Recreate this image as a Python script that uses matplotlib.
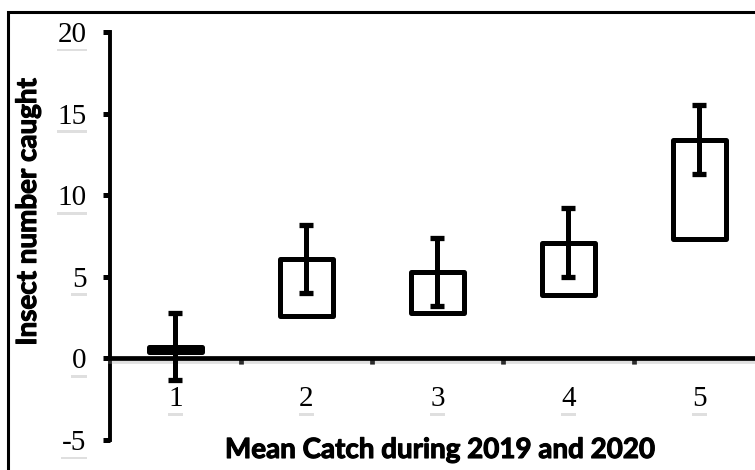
import matplotlib.pyplot as plt
import matplotlib.patheffects as pe
from matplotlib.patches import Rectangle

# Mean catch per trap treatment (box = range, whisker = error)
groups = [1, 2, 3, 4, 5]
box_low = [0.4, 2.6, 2.8, 3.9, 7.3]
box_high = [0.7, 6.1, 5.3, 7.1, 13.4]
err_low = [-1.3, 4.0, 3.2, 5.0, 11.3]
err_high = [2.8, 8.2, 7.4, 9.2, 15.5]
y_ticks = [-5, 0, 5, 10, 15, 20]

lshadow = [pe.SimpleLineShadow(offset=(0, -2), shadow_color='0.6', alpha=0.3), pe.Normal()]
heavy = [pe.withStroke(linewidth=0.8, foreground='black')]

fig = plt.figure(figsize=(7.55, 4.70), dpi=100)
ax = fig.add_axes([0.1457, 0.0638, 0.8675, 0.868])

# outer frame (only top/left edges fall inside the image)
fig.patches.append(Rectangle((8 / 755, -0.2), 1.2, 1.2 - 12 / 470,
                             transform=fig.transFigure, fill=False,
                             edgecolor='black', linewidth=2.2, zorder=0))

ax.bar(groups, [h - l for h, l in zip(box_high, box_low)], bottom=box_low,
       width=0.41, fill=False, edgecolor='black', linewidth=3.6, zorder=3,
       joinstyle='round')

mid = [(h + l) / 2 for h, l in zip(err_high, err_low)]
half = [(h - l) / 2 for h, l in zip(err_high, err_low)]
eb = ax.errorbar(groups, mid, yerr=half, fmt='none', ecolor='black',
                 elinewidth=3.6, capsize=5, capthick=3.8, zorder=4)

ax.set_xlim(0.5, 5.5)
ax.set_ylim(-5, 20)

for s in ['top', 'right']:
    ax.spines[s].set_visible(False)
ax.spines['bottom'].set_position(('data', 0))
ax.spines['bottom'].set_linewidth(3.4)
ax.spines['left'].set_linewidth(2.8)
ax.spines['left'].set_bounds(-5, 20)
ax.spines['bottom'].set_path_effects(lshadow)

ax.set_yticks(y_ticks)
ax.set_yticklabels([str(v) for v in y_ticks])
ax.set_xticks(groups)
ax.set_xticklabels([str(g) for g in groups])
ax.set_xticks([1.5, 2.5, 3.5, 4.5], minor=True)

ax.tick_params(axis='y', direction='out', length=5, width=3.6, pad=12,
               labelsize=21, labelfontfamily='Liberation Serif')
ax.tick_params(axis='x', which='major', length=0, pad=20,
               labelsize=21, labelfontfamily='Liberation Serif')
ax.tick_params(axis='x', which='minor', direction='out', length=4.5, width=3.4)

for t in ax.get_yticklabels() + ax.get_xticklabels():
    t.set_bbox(dict(facecolor='white', edgecolor='none', pad=0.5))
    t.get_bbox_patch().set_path_effects(
        [pe.SimplePatchShadow(offset=(0, -2), shadow_rgbFace='0.5', alpha=0.25), pe.Normal()])

fig.text(28 / 755, 1 - 212 / 470, 'Insect number caught', rotation=90,
         ha='center', va='center', fontsize=20, fontweight='bold', family='Lato',
         path_effects=heavy)
fig.text(440 / 755, 1 - 450 / 470, 'Mean Catch during 2019 and 2020',
         ha='center', va='center', fontsize=20, fontweight='bold', family='Lato',
         path_effects=heavy)

fig.savefig('out.png', dpi=100)
